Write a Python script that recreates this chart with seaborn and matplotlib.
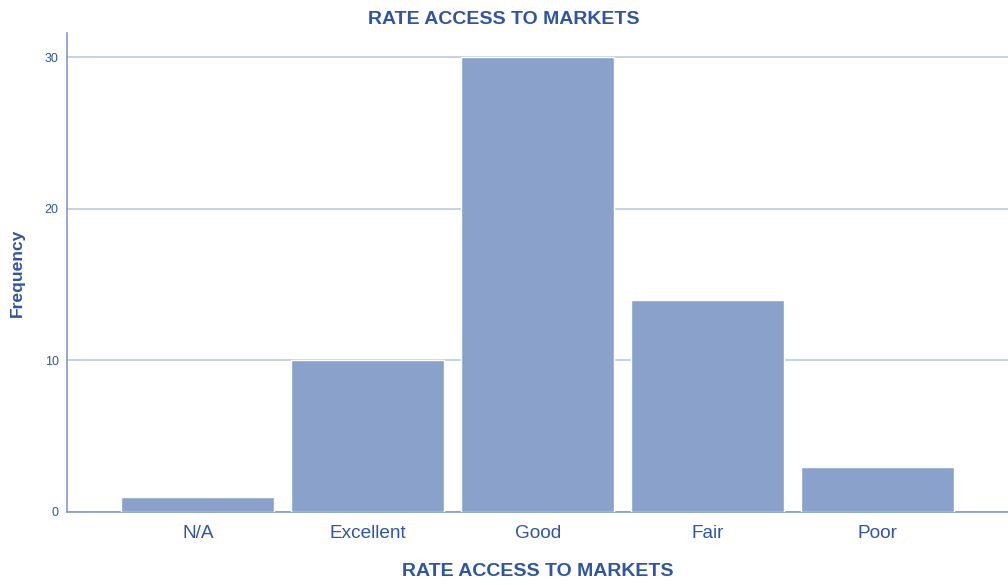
import matplotlib
matplotlib.use('Agg')
import matplotlib.pyplot as plt
import pandas as pd
import seaborn as sns

categories = ['N/A', 'Excellent', 'Good', 'Fair', 'Poor']
frequency = [1, 10, 30, 14, 3]

TEXT = '#2F55A4'
BAR = '#8AA2CB'
GRID = '#BACAE6'
AXIS = '#7F99CF'

sns.set_style('white')
plt.rcParams['font.family'] = ['Liberation Sans', 'DejaVu Sans']

df = pd.DataFrame({'Rating': categories, 'Frequency': frequency})

fig = plt.figure(figsize=(10.08, 5.85), dpi=100)
ax = fig.add_axes([0.0665, 0.1248, 0.9335, 0.8188])

sns.barplot(data=df, x='Rating', y='Frequency', order=categories,
            color=BAR, saturation=1, width=0.9, ax=ax, zorder=3)

ax.set_xlim(-0.77, 4.765)
ax.set_ylim(0, 31.6)
ax.set_yticks([0, 10, 20, 30])
ax.yaxis.grid(True, color=GRID, linewidth=1.2, zorder=0)
ax.set_axisbelow(True)

for side in ['top', 'right']:
    ax.spines[side].set_visible(False)
for side in ['left', 'bottom']:
    ax.spines[side].set_color(AXIS)
    ax.spines[side].set_linewidth(1.2)

ax.tick_params(axis='x', length=0, pad=9.5, labelsize=13.7, labelcolor=TEXT)
ax.tick_params(axis='y', length=0, pad=6, labelsize=9, labelcolor=TEXT)

ax.set_xlabel('RATE ACCESS TO MARKETS', fontsize=14, fontweight='bold', color=TEXT, labelpad=15)
ax.set_ylabel('Frequency', fontsize=12.6, fontweight='bold', color=TEXT, labelpad=14)
fig.suptitle('RATE ACCESS TO MARKETS', x=0.5, y=0.981, fontsize=14, fontweight='bold', color=TEXT)

fig.savefig('out.png', dpi=100)
